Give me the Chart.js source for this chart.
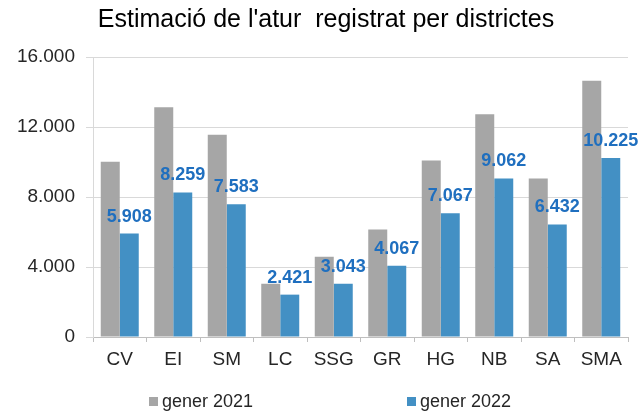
<!DOCTYPE html>
<html>
<head>
<meta charset="utf-8">
<script src="https://cdn.jsdelivr.net/npm/chart.js@4"></script>
<style>
  html, body { margin: 0; padding: 0; background: #fff; }
  #c { display: block; }
</style>
</head>
<body>
<canvas id="c" width="642" height="414"></canvas>
<script>
// dades
var districtes = ['CV', 'EI', 'SM', 'LC', 'SSG', 'GR', 'HG', 'NB', 'SA', 'SMA'];
var gener2021 = [10020, 13130, 11560, 3050, 4580, 6150, 10080, 12730, 9060, 14640];
var gener2022 = [5908, 8259, 7583, 2421, 3043, 4067, 7067, 9062, 6432, 10225];
var yTicks = [0, 4000, 8000, 12000, 16000];
var serieNoms = ['gener 2021', 'gener 2022'];

var FONT = '"Liberation Sans", Arial, sans-serif';

function punts(v) {
    return String(v).replace(/\B(?=(\d{3})+(?!\d))/g, '.');
}

// el títol està una mica desplaçat cap a la dreta
var titolDreta = {
    id: 'titolDreta',
    afterLayout: function (chart) {
        if (chart.titleBlock) chart.titleBlock.left = 24;
    }
};

// etiquetes blaves sobre les barres de 2022
var etiquetes = {
    id: 'etiquetes',
    afterDatasetsDraw: function (chart) {
        var ctx = chart.ctx;
        var meta = chart.getDatasetMeta(1);
        ctx.save();
        ctx.font = 'bold 18px ' + FONT;
        ctx.fillStyle = '#1f6fbf';
        ctx.textAlign = 'center';
        ctx.textBaseline = 'alphabetic';
        meta.data.forEach(function (bar, i) {
            ctx.fillText(punts(gener2022[i]), bar.x, bar.y - 12);
        });
        ctx.restore();
    }
};

// llegenda a sota
var llegenda = {
    id: 'llegenda',
    afterDraw: function (chart) {
        var ctx = chart.ctx;
        var xs = [149, 407];
        var y = 402;
        ctx.save();
        ctx.font = '18px ' + FONT;
        ctx.textBaseline = 'middle';
        ctx.textAlign = 'left';
        chart.data.datasets.forEach(function (ds, i) {
            ctx.fillStyle = ds.backgroundColor;
            ctx.fillRect(xs[i], y - 5, 9, 9);
            ctx.fillStyle = '#262626';
            ctx.fillText(ds.label, xs[i] + 13, y);
        });
        ctx.restore();
    }
};

var chart = new Chart(document.getElementById('c'), {
    type: 'bar',
    data: {
        labels: districtes,
        datasets: [{
            label: serieNoms[0],
            data: gener2021,
            backgroundColor: '#a6a6a6'
        }, {
            label: serieNoms[1],
            data: gener2022,
            backgroundColor: '#4390c4'
        }]
    },
    options: {
        responsive: false,
        animation: false,
        layout: { padding: { left: 0, right: 14, top: 0, bottom: 37 } },
        datasets: {
            bar: { categoryPercentage: 0.71, barPercentage: 1.0 }
        },
        plugins: {
            legend: { display: false },
            tooltip: { enabled: false },
            title: {
                display: true,
                text: "Estimació de l'atur  registrat per districtes",
                color: '#000',
                font: { family: FONT, size: 25, weight: 'normal' },
                padding: { top: 5, bottom: 22 }
            }
        },
        scales: {
            x: {
                grid: {
                    offset: true,
                    drawOnChartArea: false,
                    drawTicks: true,
                    tickLength: 5,
                    color: '#bfbfbf'
                },
                border: { display: true, color: '#bfbfbf' },
                ticks: {
                    color: '#262626',
                    font: { family: FONT, size: 19 },
                    padding: 6,
                    maxRotation: 0,
                    autoSkip: false
                },
                afterFit: function (s) { s.height = 40; }
            },
            y: {
                min: 0,
                max: 16000,
                afterBuildTicks: function (s) {
                    s.ticks = yTicks.map(function (v) { return { value: v }; });
                },
                grid: { color: '#d9d9d9', drawTicks: true, tickLength: 7 },
                border: { display: true, color: '#d9d9d9' },
                ticks: {
                    color: '#262626',
                    font: { family: FONT, size: 19 },
                    padding: 11,
                    callback: function (v) { return punts(v); }
                },
                afterFit: function (s) { s.width = 93; }
            }
        }
    },
    plugins: [titolDreta, etiquetes, llegenda]
});
</script>
</body>
</html>
